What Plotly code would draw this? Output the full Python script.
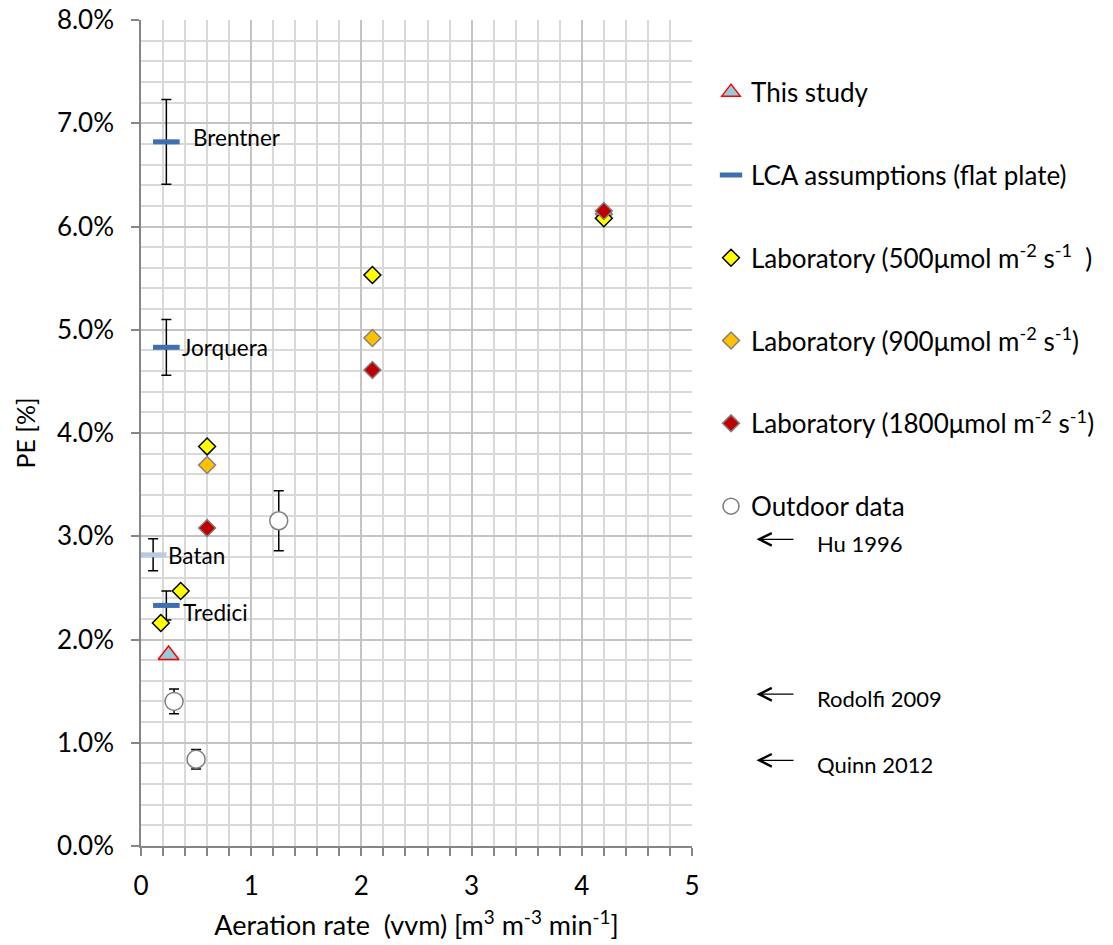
import plotly.graph_objects as go

# ---- data (aeration rate in vvm, PE in %) ----
this_x = [0.25]
this_y = [1.85]

lca_x = [0.23, 0.23, 0.23]
lca_y = [6.82, 4.83, 2.33]
lca_err = [0.41, 0.27, 0.14]
lca_names = ["Brentner", "Jorquera", "Tredici"]

batan_x = [0.11]
batan_y = [2.82]
batan_err = [0.155]
batan_names = ["Batan"]

lab500_x = [0.18, 0.36, 0.6, 2.1, 4.2]
lab500_y = [2.16, 2.47, 3.87, 5.53, 6.08]

lab900_x = [0.6, 2.1, 4.2]
lab900_y = [3.69, 4.92, 6.12]

lab1800_x = [0.6, 2.1, 4.2]
lab1800_y = [3.08, 4.61, 6.15]

out_x = [0.3, 0.5, 1.25]
out_y = [1.40, 0.84, 3.15]
out_err = [0.12, 0.095, 0.29]

ref_names = ["Hu 1996", "Rodolfi 2009", "Quinn 2012"]
ref_y = [2.97, 1.47, 0.83]

FONT = "Lato"
err_style = dict(type="data", visible=True, color="black", thickness=1.5, width=5)

fig = go.Figure()

fig.add_trace(go.Scatter(
    x=lca_x, y=lca_y, mode="markers", name="LCA assumptions (flat plate)",
    legendgroup="lca", legendrank=2,
    error_y=dict(array=lca_err, **err_style),
    marker=dict(symbol="line-ew", size=19, line=dict(width=5, color="#3f6fb0")),
))
fig.add_trace(go.Scatter(
    x=batan_x, y=batan_y, mode="markers", name="Batan", showlegend=False,
    error_y=dict(array=batan_err, **err_style),
    marker=dict(symbol="line-ew", size=19, line=dict(width=5, color="#b7cbe4")),
))
fig.add_trace(go.Scatter(
    x=this_x, y=this_y, mode="markers", name="This study",
    legendgroup="this", legendrank=1,
    marker=dict(symbol="triangle-up", size=18, color="#92cddc",
                line=dict(width=1.5, color="#ff0000")),
))
fig.add_trace(go.Scatter(
    x=lab900_x, y=lab900_y, mode="markers",
    name="Laboratory (900μmol m<sup>-2</sup> s<sup>-1</sup>)",
    legendgroup="l900", legendrank=4,
    marker=dict(symbol="diamond", size=13, color="#ffc000",
                line=dict(width=1.5, color="#808080")),
))
fig.add_trace(go.Scatter(
    x=lab500_x, y=lab500_y, mode="markers",
    name="Laboratory (500μmol m<sup>-2</sup> s<sup>-1</sup>  )",
    legendgroup="l500", legendrank=3,
    marker=dict(symbol="diamond", size=13, color="#ffff00",
                line=dict(width=1.5, color="#000000")),
))
fig.add_trace(go.Scatter(
    x=lab1800_x, y=lab1800_y, mode="markers",
    name="Laboratory (1800μmol m<sup>-2</sup> s<sup>-1</sup>)",
    legendgroup="l1800", legendrank=5,
    marker=dict(symbol="diamond", size=13, color="#c00000",
                line=dict(width=1.5, color="#808080")),
))
fig.add_trace(go.Scatter(
    x=out_x, y=out_y, mode="markers", name="Outdoor data",
    legendgroup="out", legendrank=6,
    error_y=dict(array=out_err, **err_style),
    marker=dict(symbol="circle", size=18, color="white",
                line=dict(width=1.5, color="#7f7f7f")),
))

# point labels for the literature LCA values
label_shift = {"Brentner": (25, 4), "Jorquera": (14, 0), "Tredici": (15, -7), "Batan": (13, -1)}
for xs, ys, names in ((lca_x, lca_y, lca_names), (batan_x, batan_y, batan_names)):
    for x, y, n in zip(xs, ys, names):
        dx, dy = label_shift[n]
        fig.add_annotation(x=x, y=y, text=n, showarrow=False, xanchor="left",
                           xshift=dx, yshift=dy,
                           font=dict(family=FONT, size=22.5, color="black"))

# literature references beyond the plotted range
for n, y in zip(ref_names, ref_y):
    fig.add_annotation(x=1.117, y=y, xref="paper", yref="y", text=" ",
                       showarrow=True, ax=40, ay=0, arrowhead=5, arrowsize=1.9,
                       arrowwidth=1.3, arrowcolor="black")
    fig.add_annotation(x=1.224, y=y, xref="paper", yref="y", text=n,
                       showarrow=False, xanchor="left", yshift=-4,
                       font=dict(family=FONT, size=22, color="black"))

grid_minor = "#d9d9d9"
grid_major = "#c4c4c4"

fig.update_layout(
    width=1113, height=945,
    margin=dict(l=141, r=421, t=20, b=99, autoexpand=False),
    paper_bgcolor="white", plot_bgcolor="white",
    font=dict(family=FONT, color="black"),
    showlegend=True,
    legend=dict(x=1.0345, y=0.941, xanchor="left", yanchor="top",
                font=dict(family=FONT, size=26, color="black"),
                tracegroupgap=46, itemsizing="trace", bgcolor="rgba(0,0,0,0)"),
    xaxis=dict(
        range=[0, 5], dtick=1, tick0=0,
        showline=True, linecolor="#868686", linewidth=1.5,
        ticks="outside", ticklen=8, tickcolor="#868686", tickwidth=1.5,
        showgrid=True, gridcolor=grid_major, gridwidth=1.5,
        zeroline=False,
        tickfont=dict(family=FONT, size=26, color="black"),
        ticklabelstandoff=8,
        minor=dict(dtick=0.2, showgrid=True, gridcolor=grid_minor, gridwidth=1.5,
                   ticks="outside", ticklen=8, tickcolor="#868686", tickwidth=1.5),
        title=dict(text="Aeration rate  (vvm) [m<sup>3</sup> m<sup>-3</sup> min<sup>-1</sup>]",
                   font=dict(family=FONT, size=27, color="black"), standoff=16),
    ),
    yaxis=dict(
        range=[0, 8], dtick=1, tick0=0,
        ticksuffix="%", tickformat=".1f",
        showline=True, linecolor="#868686", linewidth=1.5,
        ticks="outside", ticklen=8, tickcolor="#868686", tickwidth=1.5,
        showgrid=True, gridcolor=grid_major, gridwidth=1.5,
        zeroline=False,
        tickfont=dict(family=FONT, size=26, color="black"),
        ticklabelstandoff=12,
        minor=dict(dtick=0.2, showgrid=True, gridcolor=grid_minor, gridwidth=1.5, ticks=""),
        title=dict(text="PE [%]", font=dict(family=FONT, size=25, color="black"), standoff=14),
    ),
)

fig.write_html("out.html")
